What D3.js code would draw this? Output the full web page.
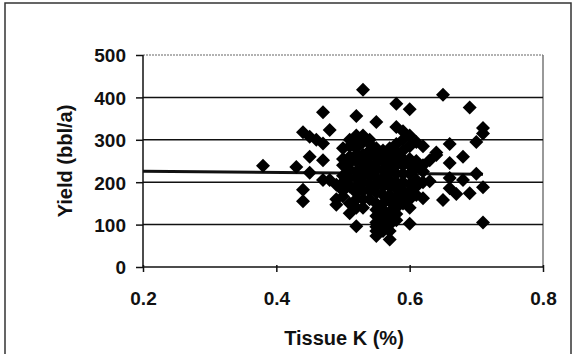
<!DOCTYPE html>
<html><head><meta charset="utf-8">
<script src="https://cdn.jsdelivr.net/npm/d3@7"></script>
<style>body{margin:0;background:#fff}svg{display:block}text{font-family:"Liberation Sans",Arial,sans-serif;font-weight:bold;fill:#111}</style>
</head><body>
<svg id="c" width="575" height="354"></svg>
<script>
const tissueK = [0.38,0.43,0.44,0.45,0.44,0.44,0.45,0.45,0.46,0.47,0.47,0.47,0.47,0.48,0.48,0.49,0.49,0.49,
0.50,0.50,0.50,0.50,0.51,0.51,0.51,0.51,0.51,0.51,0.52,0.52,0.52,0.52,0.52,0.52,0.52,0.52,0.53,0.53,0.53,0.53,0.53,0.53,0.54,0.54,0.54,0.54,0.54,
0.55,0.55,0.55,0.55,0.55,0.55,0.55,0.55,0.56,0.56,0.56,0.56,0.56,0.56,0.56,0.57,0.57,0.57,0.57,0.57,0.57,0.57,0.57,
0.58,0.58,0.58,0.58,0.58,0.58,0.58,0.58,0.59,0.59,0.59,0.59,0.59,0.59,0.60,0.60,0.60,0.60,0.60,0.60,0.61,0.61,0.61,0.61,
0.62,0.62,0.62,0.63,0.63,0.64,0.64,0.65,0.65,0.66,0.66,0.66,0.66,0.67,0.68,0.68,0.69,0.69,0.70,0.70,0.71,0.71,0.71,0.71,
0.50,0.50,0.50,0.51,0.51,0.51,0.52,0.52,0.52,0.52,0.52,0.53,0.53,0.53,0.53,0.53,0.54,0.54,0.54,0.54,0.54,
0.55,0.55,0.55,0.55,0.55,0.55,0.55,0.56,0.56,0.56,0.56,0.56,0.56,0.57,0.57,0.57,0.57,0.57,0.57,
0.58,0.58,0.58,0.58,0.58,0.58,0.59,0.59,0.59,0.59,0.60,0.60,0.60,0.60,0.60,0.61,0.61,0.62,0.62];
const yieldVals = [239,236,318,307,182,155,260,222,300,365,291,252,205,323,205,194,147,160,
166,280,240,215,300,127,260,190,230,150,96,356,310,280,250,210,175,140,418,295,265,235,200,160,300,275,240,215,180,
342,260,230,195,150,120,95,73,275,250,210,170,135,110,85,65,100,130,155,190,225,255,280,
385,330,270,240,200,165,140,110,320,300,255,220,180,150,372,102,310,240,195,160,295,235,205,170,
285,162,225,252,202,264,270,406,158,290,245,186,210,172,260,205,376,174,295,220,328,315,188,105,
255,200,180,285,245,210,295,265,225,190,160,310,250,215,180,140,290,260,225,195,160,
280,245,210,175,135,105,85,265,230,190,150,120,95,270,240,205,170,115,85,
290,255,220,185,150,125,275,240,200,165,285,255,220,175,140,250,190,240,200];
const trendX = [0.2, 0.71];
const trendY = [226, 219];
const xTicks = [0.2, 0.4, 0.6, 0.8];
const yTicks = [0, 100, 200, 300, 400, 500];

const svg = d3.select('#c');
const x = d3.scaleLinear().domain([0.2, 0.8]).range([143, 543]);
const y = d3.scaleLinear().domain([0, 500]).range([267, 55]);

svg.append('rect').attr('x',5).attr('y',3).attr('width',566).attr('height',352)
  .attr('fill','none').attr('stroke','#333').attr('stroke-width',1.5);

svg.append('line').attr('x1',x(0.2)).attr('x2',x(0.8)).attr('y1',y(500)).attr('y2',y(500))
  .attr('stroke','#999').attr('stroke-width',1.5).attr('stroke-dasharray','2,1');
svg.append('line').attr('x1',x(0.8)).attr('x2',x(0.8)).attr('y1',y(500)).attr('y2',y(0))
  .attr('stroke','#777').attr('stroke-width',1.5);

svg.append('g').selectAll('line').data(yTicks.filter(d=>d>0&&d<500)).join('line')
  .attr('x1',x(0.2)).attr('x2',x(0.8)).attr('y1',d=>y(d)).attr('y2',d=>y(d))
  .attr('stroke','#111').attr('stroke-width',1.5);

const xAxis = svg.append('g').attr('transform',`translate(0,${y(0)})`)
  .call(d3.axisBottom(x).tickValues(xTicks).tickSize(5).tickFormat(d3.format('.1f')));
xAxis.select('.domain').attr('stroke','#111').attr('stroke-width',1.5).attr('d',`M${x(0.2)},0H${x(0.8)}`);
xAxis.selectAll('.tick line').attr('stroke','#111').attr('stroke-width',1.5).attr('y1',-2);
xAxis.selectAll('.tick text').attr('font-size',19).attr('dy',0).attr('y',38);

const yAxis = svg.append('g').attr('transform',`translate(${x(0.2)},0)`)
  .call(d3.axisLeft(y).tickValues(yTicks).tickSize(7).tickFormat(d3.format('d')));
yAxis.select('.domain').attr('stroke','#111').attr('stroke-width',1.5).attr('d',`M0,${y(0)}V${y(500)}`);
yAxis.selectAll('.tick line').attr('stroke','#111').attr('stroke-width',1.5);
yAxis.selectAll('.tick text').attr('font-size',19).attr('x',-17).attr('dy','0.36em');

svg.append('path').datum(trendX.map((d,i)=>[d,trendY[i]]))
  .attr('d', d3.line().x(d=>x(d[0])).y(d=>y(d[1])))
  .attr('stroke','#111').attr('stroke-width',3).attr('fill','none');

const pts = tissueK.map((d,i)=>[d, yieldVals[i]]);
svg.append('g').selectAll('path').data(pts).join('path')
  .attr('transform',d=>`translate(${x(d[0])},${y(d[1])})`)
  .attr('d','M0,-7L7,0L0,7L-7,0Z').attr('fill','#000');

svg.append('text').attr('x',344).attr('y',345).attr('text-anchor','middle').attr('font-size',20).text('Tissue K (%)');
svg.append('text').attr('transform','translate(72,161) rotate(-90)').attr('text-anchor','middle').attr('font-size',20).text('Yield (bbl/a)');
</script>
</body></html>
